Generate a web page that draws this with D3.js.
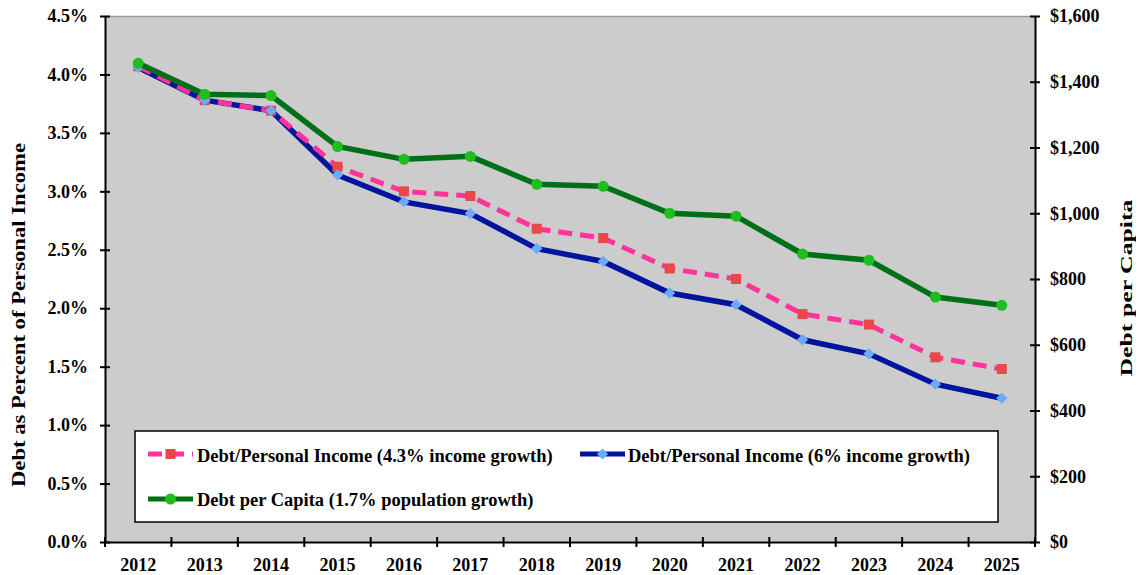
<!DOCTYPE html>
<html lang="en">
<meta charset="utf-8">
<head>
    <style>
        body { margin: 0; background: #fff; }
        text { font-family: "Liberation Serif", "Times New Roman", serif; font-weight: bold; fill: #000; }
    </style>
    <script src="https://d3js.org/d3.v7.min.js"></script>
</head>
<body>
</body>
<script>
    // data
    var years = ["2012", "2013", "2014", "2015", "2016", "2017", "2018", "2019", "2020", "2021", "2022", "2023", "2024", "2025"];
    var incomeSlow = [4.07, 3.78, 3.69, 3.21, 3.00, 2.96, 2.68, 2.60, 2.34, 2.25, 1.95, 1.86, 1.58, 1.48];   // % (4.3% income growth)
    var incomeFast = [4.06, 3.78, 3.69, 3.14, 2.91, 2.81, 2.51, 2.40, 2.13, 2.03, 1.73, 1.61, 1.35, 1.23];   // % (6% income growth)
    var perCapita = [1456, 1362, 1358, 1203, 1164, 1173, 1088, 1082, 1000, 991, 876, 857, 745, 720];       // $
    var leftTicks = [0, 0.5, 1, 1.5, 2, 2.5, 3, 3.5, 4, 4.5];
    var rightTicks = [0, 200, 400, 600, 800, 1000, 1200, 1400, 1600];

    var W = 1136, H = 575;
    var m = { left: 105, right: 1035, top: 16, bottom: 542 };

    var svg = d3.select("body").append("svg")
        .attr("width", W)
        .attr("height", H);

    var x = d3.scaleBand().domain(years).range([m.left, m.right]);
    var yL = d3.scaleLinear().domain([0, 4.5]).range([m.bottom, m.top]);
    var yR = d3.scaleLinear().domain([0, 1600]).range([m.bottom, m.top]);
    var cx = function (d, i) { return x(years[i]) + x.bandwidth() / 2; };

    // plot background
    svg.append("rect")
        .attr("x", m.left).attr("y", m.top)
        .attr("width", m.right - m.left).attr("height", m.bottom - m.top)
        .attr("fill", "#cccccc");
    svg.append("line")
        .attr("x1", m.left).attr("x2", m.right)
        .attr("y1", m.top + 0.5).attr("y2", m.top + 0.5)
        .attr("stroke", "#999").attr("stroke-width", 1.5);

    // axes
    var leftAxis = d3.axisLeft(yL).tickValues(leftTicks)
        .tickFormat(function (d) { return d3.format(".1f")(d) + "%"; })
        .tickSizeInner(5).tickSizeOuter(0).tickPadding(12);
    var gl = svg.append("g").attr("transform", "translate(" + m.left + ",0)").call(leftAxis);

    var rightAxis = d3.axisRight(yR).tickValues(rightTicks)
        .tickFormat(function (d) { return "$" + d3.format(",")(d); })
        .tickSizeInner(5).tickSizeOuter(0).tickPadding(10);
    var gr = svg.append("g").attr("transform", "translate(" + m.right + ",0)").call(rightAxis);

    var bottomAxis = d3.axisBottom(x).tickSize(0).tickPadding(16);
    var gb = svg.append("g").attr("transform", "translate(0," + m.bottom + ")").call(bottomAxis);

    [gl, gr, gb].forEach(function (g) {
        g.select(".domain").attr("stroke", "#000").attr("stroke-width", 2);
        g.selectAll(".tick line").attr("stroke", "#000").attr("stroke-width", 2);
        g.selectAll("text").attr("font-size", 18).attr("fill", "#000")
            .attr("font-family", "Liberation Serif").attr("font-weight", "bold");
    });
    // ticks that cross the axis lines
    gl.selectAll(".tick line").attr("x1", 5).attr("x2", -5);
    gr.selectAll(".tick line").attr("x1", -5).attr("x2", 5);
    svg.append("g").selectAll("line")
        .data(d3.range(years.length + 1))
        .enter().append("line")
        .attr("x1", function (i) { return m.left + i * x.step(); })
        .attr("x2", function (i) { return m.left + i * x.step(); })
        .attr("y1", m.bottom - 5).attr("y2", m.bottom + 5)
        .attr("stroke", "#000").attr("stroke-width", 2);

    // axis titles (stretched along the baseline like the original)
    svg.append("text")
        .attr("transform", "translate(25,315) rotate(-90)")
        .attr("text-anchor", "middle").attr("font-size", 18)
        .attr("textLength", 344).attr("lengthAdjust", "spacingAndGlyphs")
        .text("Debt as Percent of Personal Income");
    svg.append("text")
        .attr("transform", "translate(1132,288) rotate(-90)")
        .attr("text-anchor", "middle").attr("font-size", 17)
        .attr("textLength", 177).attr("lengthAdjust", "spacingAndGlyphs")
        .text("Debt per Capita");

    // lines
    var lineL = d3.line().x(cx).y(function (d) { return yL(d); });
    var lineR = d3.line().x(cx).y(function (d) { return yR(d); });

    svg.append("path").datum(incomeFast).attr("d", lineL)
        .attr("fill", "none").attr("stroke", "#0014a0").attr("stroke-width", 5.5);
    svg.append("path").datum(incomeSlow).attr("d", lineL)
        .attr("fill", "none").attr("stroke", "#ff3399").attr("stroke-width", 5)
        .attr("stroke-dasharray", "14,8");
    svg.append("g").selectAll("rect").data(incomeSlow).enter().append("rect")
        .attr("x", function (d, i) { return cx(d, i) - 5; })
        .attr("y", function (d) { return yL(d) - 5; })
        .attr("width", 10).attr("height", 10)
        .attr("fill", "#e84848");
    svg.append("g").selectAll("path").data(incomeFast).enter().append("path")
        .attr("d", d3.symbol(d3.symbolDiamond2, 80))
        .attr("transform", function (d, i) { return "translate(" + cx(d, i) + "," + yL(d) + ")"; })
        .attr("fill", "#6aaaff");

    svg.append("path").datum(perCapita).attr("d", lineR)
        .attr("fill", "none").attr("stroke", "#007018").attr("stroke-width", 5.5);
    svg.append("g").selectAll("circle").data(perCapita).enter().append("circle")
        .attr("cx", cx).attr("cy", function (d) { return yR(d); })
        .attr("r", 5.5).attr("fill", "#1ebe1e");

    // legend
    var lg = svg.append("g");
    lg.append("rect")
        .attr("x", 135).attr("y", 431).attr("width", 863).attr("height", 91)
        .attr("fill", "#fff").attr("stroke", "#000").attr("stroke-width", 1.5);

    function legendItem(x0, y0, color, dash, marker) {
        lg.append("line").attr("x1", x0).attr("x2", x0 + 45).attr("y1", y0).attr("y2", y0)
            .attr("stroke", color).attr("stroke-width", 5).attr("stroke-dasharray", dash);
        marker(x0 + 22.5, y0);
    }
    legendItem(148, 454, "#ff3399", "14,8", function (px, py) {
        lg.append("rect").attr("x", px - 5).attr("y", py - 5).attr("width", 10).attr("height", 10).attr("fill", "#e84848");
    });
    lg.append("text").attr("x", 197).attr("y", 462).attr("font-size", 18.5)
        .text("Debt/Personal Income (4.3% income growth)");

    legendItem(580, 454, "#0014a0", null, function (px, py) {
        lg.append("path").attr("d", d3.symbol(d3.symbolDiamond2, 80))
            .attr("transform", "translate(" + px + "," + py + ")").attr("fill", "#6aaaff");
    });
    lg.append("text").attr("x", 628).attr("y", 462).attr("font-size", 18.5)
        .text("Debt/Personal Income (6% income growth)");

    legendItem(148, 499, "#007018", null, function (px, py) {
        lg.append("circle").attr("cx", px).attr("cy", py).attr("r", 5.5).attr("fill", "#1ebe1e");
    });
    lg.append("text").attr("x", 197).attr("y", 506).attr("font-size", 18.5)
        .text("Debt per Capita (1.7% population growth)");
</script>
</html>
